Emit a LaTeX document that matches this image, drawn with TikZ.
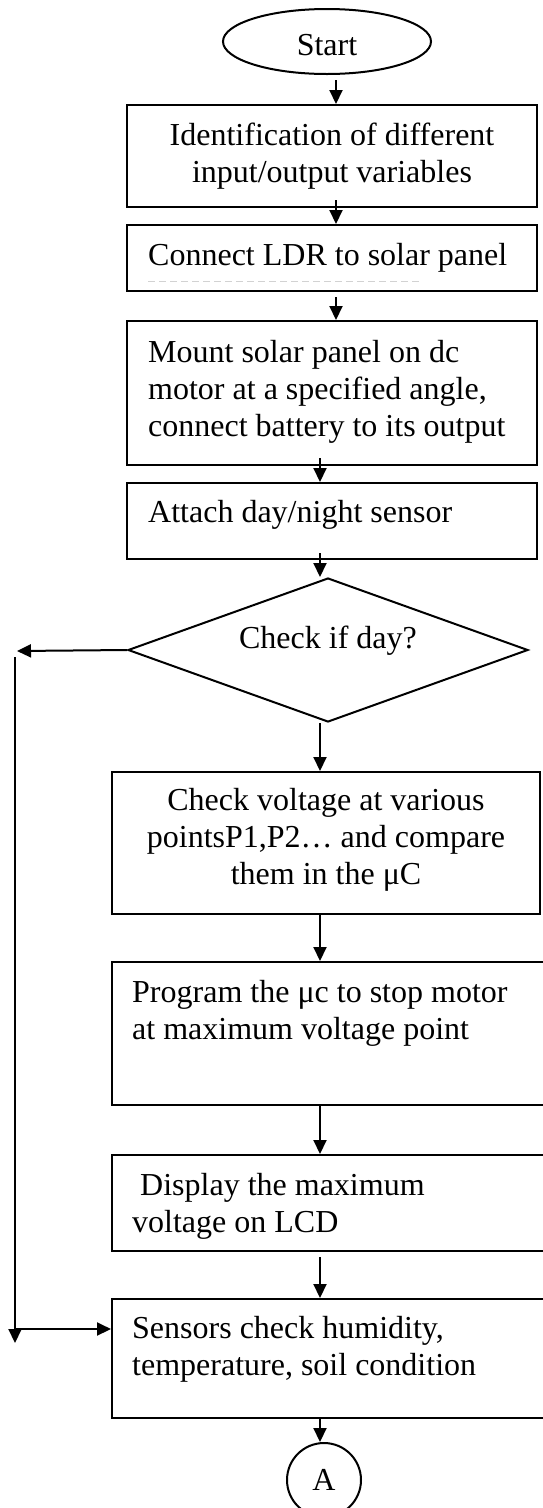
\documentclass[tikz,border=0pt]{standalone}
\usepackage{fontspec}
\setmainfont{Liberation Serif}
\usetikzlibrary{arrows.meta,shapes.geometric}
\begin{document}
\begin{tikzpicture}[x=1pt,y=-1pt,
  every node/.style={font=\fontsize{32}{37}\selectfont},
  box/.style={draw,line width=2pt,rectangle,inner sep=0pt},
  txt/.style={inner sep=0pt,align=left},
  ctxt/.style={inner sep=0pt,align=center},
  arr/.style={line width=2pt,-{Triangle[length=14pt,width=13pt]}}]
\useasboundingbox (0,0) rectangle (543,1508);

% start terminal
\node[draw,ellipse,line width=2pt,minimum width=208pt,minimum height=65pt,
      inner sep=0pt,text height=27pt,text depth=0pt] (start) at (327,41.5) {Start};

% boxes
\node[box,minimum width=410pt,minimum height=102pt] (b1) at (332,156) {};
\node[ctxt,anchor=north] (t1) at (332,119.1) {\strut Identification of different\\input/output variables};

\node[box,minimum width=410pt,minimum height=66pt] (b2) at (332,258) {};
\node[txt,anchor=base west] (t2) at (148,265) {Connect LDR to solar panel};
\draw[gray!35,line width=1pt,dash pattern=on 7pt off 4pt] (148,281) -- (420,281);

\node[box,minimum width=410pt,minimum height=144pt] (b3) at (332,393) {};
\node[txt,anchor=north west] (t3) at (148,336.1) {\strut Mount solar panel on dc\\motor at a specified angle,\\connect battery to its output};

\node[box,minimum width=410pt,minimum height=76pt] (b4) at (332,521) {};
\node[txt,anchor=base west] (t4) at (148,522) {Attach day/night sensor};

% decision
\node[draw,diamond,line width=2pt,minimum width=400pt,minimum height=144pt,
      inner sep=0pt,aspect=2.78,text height=20pt,text depth=24pt] (d) at (328,650) {Check if day?};

\node[box,minimum width=428pt,minimum height=142pt] (b5) at (326,843) {};
\node[ctxt,anchor=north] (t5) at (326,784.1) {\strut Check voltage at various\\pointsP1,P2… and compare\\them in the μC};

\node[box,minimum width=433pt,minimum height=143pt] (b6) at (328.5,1033.5) {};
\node[txt,anchor=north west] (t6) at (132,976.1) {\strut Program the μc to stop motor\\at maximum voltage point};

\node[box,minimum width=433pt,minimum height=96pt] (b7) at (328.5,1203) {};
\node[txt,anchor=north west] (t7) at (132,1169.1) {\strut\hspace*{8pt}Display the maximum\\voltage on LCD};

\node[box,minimum width=433pt,minimum height=119pt] (b8) at (328.5,1358.5) {};
\node[txt,anchor=north west] (t8) at (132,1312.1) {\strut Sensors check humidity,\\temperature, soil condition};

% connector
\node[draw,circle,line width=2pt,minimum size=74pt,inner sep=0pt] (A) at (324,1480) {A};

% arrows
\coordinate (p1) at (336,80);
\coordinate (p2) at (336,200);
\coordinate (p3) at (336,297);
\coordinate (p4) at (320,458);
\coordinate (p5) at (320,553);
\coordinate (p9) at (320,1257);
\draw[arr] (p1) -- (p1 |- b1.north);
\draw[arr] (p2) -- (p2 |- b2.north);
\draw[arr] (p3) -- (p3 |- b3.north);
\draw[arr] (p4) -- (p4 |- b4.north);
\draw[arr] (p5) -- (p5 |- d.north);
\draw[arr] (p4 |- d.south) -- (p4 |- b5.north);
\draw[arr] (p4 |- b5.south) -- (p4 |- b6.north);
\draw[arr] (p4 |- b6.south) -- (p4 |- b7.north);
\draw[arr] (p9) -- (p9 |- b8.north);
\draw[arr] (p4 |- b8.south) -- (p4 |- A.north);

% night loop
\coordinate (L1) at (17,651);
\coordinate (L2) at (15,657);
\coordinate (L3) at (15,1343);
\coordinate (L4) at (15,1329);
\draw[arr] (d.west) -- (L1);
\draw[arr] (L2) -- (L3);
\draw[arr] (L4) -- (L4 -| b8.west);
\end{tikzpicture}
\end{document}
